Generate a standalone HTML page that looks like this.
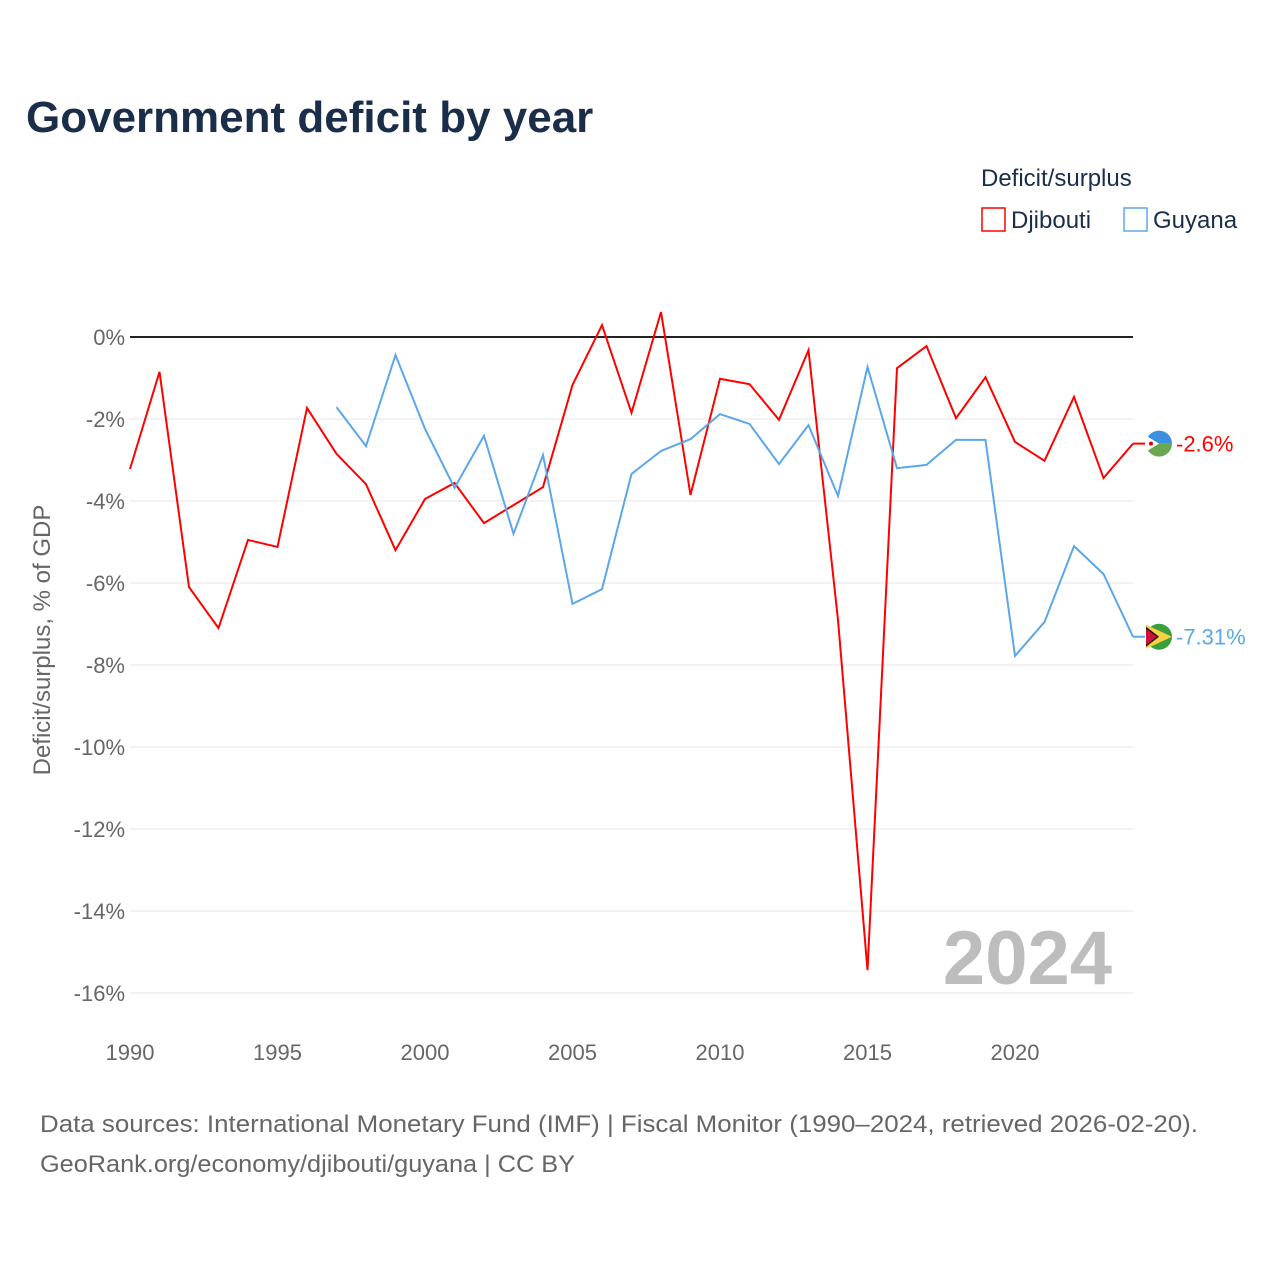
<!DOCTYPE html>
<html><head><meta charset="utf-8"><style>
body{margin:0;background:#fff;font-family:"Liberation Sans",sans-serif}
svg text{font-family:"Liberation Sans",sans-serif}
</style></head><body>
<svg id="chart" width="1280" height="1280" xmlns="http://www.w3.org/2000/svg">
<text x="26" y="132" font-size="44" font-weight="bold" fill="#1a2e4a">Government deficit by year</text>
<text x="981" y="186" font-size="24" fill="#1a2e4a">Deficit/surplus</text>
<g><rect x="982" y="208" width="23" height="23" fill="none" stroke="#f00" stroke-width="1.5"/><text x="1011" y="228" font-size="24" fill="#1a2e4a">Djibouti</text></g>
<g><rect x="1124" y="208" width="23" height="23" fill="none" stroke="#5ba7ea" stroke-width="1.5"/><text x="1153" y="228" font-size="24" fill="#1a2e4a">Guyana</text></g>
<g id="grid"></g><g id="xt"></g>
<text x="1112" y="984" font-size="76" font-weight="bold" fill="#bdbdbd" text-anchor="end">2024</text>
<g id="lines"></g>
<text transform="translate(50,640) rotate(-90)" font-size="24" fill="#666" text-anchor="middle">Deficit/surplus, % of GDP</text>
<text x="40" y="1132" font-size="24" fill="#666" textLength="1158" lengthAdjust="spacingAndGlyphs">Data sources: International Monetary Fund (IMF) | Fiscal Monitor (1990–2024, retrieved 2026-02-20).</text>
<text x="40" y="1172" font-size="24" fill="#666" textLength="535" lengthAdjust="spacingAndGlyphs">GeoRank.org/economy/djibouti/guyana | CC BY</text>
</svg>
<script>
const years=[];for(let y=1990;y<=2024;y++)years.push(y);
const djibouti=[-3.22,-0.85,-6.1,-7.1,-4.95,-5.12,-1.73,-2.85,-3.59,-5.2,-3.95,-3.56,-4.54,-4.1,-3.66,-1.17,0.29,-1.85,0.61,-3.85,-1.02,-1.15,-2.02,-0.32,-6.9,-15.44,-0.76,-0.22,-1.98,-0.98,-2.56,-3.02,-1.46,-3.44,-2.6];
const guyanaYears=[];for(let y=1997;y<=2024;y++)guyanaYears.push(y);
const guyana=[-1.71,-2.66,-0.44,-2.24,-3.68,-2.41,-4.8,-2.88,-6.51,-6.15,-3.34,-2.78,-2.49,-1.88,-2.12,-3.1,-2.15,-3.88,-0.73,-3.2,-3.12,-2.51,-2.51,-7.78,-6.95,-5.1,-5.78,-7.31];
const yTicks=[0,-2,-4,-6,-8,-10,-12,-14,-16];
const xTicks=[1990,1995,2000,2005,2010,2015,2020];
const NS="http://www.w3.org/2000/svg";
const X=v=>130+(v-1990)*29.5, Y=v=>337-v*41;
function mk(t,a,p){const e=document.createElementNS(NS,t);for(const k in a)e.setAttribute(k,a[k]);p.appendChild(e);return e;}
const g=document.getElementById('grid');
yTicks.forEach(t=>{
 const l=mk('line',{x1:130,x2:1133,y1:Y(t),y2:Y(t),stroke:t===0?'#222':'#e5e5e5','stroke-width':t===0?2:1},g);
 
 
 const tx=mk('text',{x:125,y:Y(t)+8,'font-size':22,fill:'#666','text-anchor':'end'},g);tx.textContent=t+'%';
 
 
});
const xt=document.getElementById('xt');
xTicks.forEach(t=>{const tx=mk('text',{x:X(t),y:1060,'font-size':22,fill:'#666','text-anchor':'middle'},xt);tx.textContent=t;
 
 });
const L=document.getElementById('lines');
function series(xs,vs,c,name,label){
 const p=mk('path',{d:vs.map((v,i)=>(i?'L':'M')+X(xs[i])+','+Y(v)).join(''),fill:'none',stroke:c,'stroke-width':2},L);
 
 
 const last=vs[vs.length-1];
 mk('line',{x1:X(2024),x2:X(2024)+12,y1:Y(last),y2:Y(last),stroke:c,'stroke-width':2},L);
 const cx=X(2024)+26, cy=Y(last);
 const fg=mk('g',{},L);
 
 
 if(name==='djibouti'){
  mk('path',{d:`M${cx-13},${cy}A13,13 0 0 1 ${cx+13},${cy}Z`,fill:'#3d8fe0'},fg);
  mk('path',{d:`M${cx-13},${cy}A13,13 0 0 0 ${cx+13},${cy}Z`,fill:'#6aa84f'},fg);
  mk('path',{d:`M${cx-13},${cy-8}L${cx},${cy}L${cx-13},${cy+8}Z`,fill:'#fff'},fg);
  mk('circle',{cx:cx-8,cy:cy,r:2,fill:'#d00'},fg);
 } else {
  mk('circle',{cx:cx,cy:cy,r:13,fill:'#3a9e3a'},fg);
  mk('path',{d:`M${cx-13},${cy-12}L${cx+13},${cy}L${cx-13},${cy+12}Z`,fill:'#f7d046'},fg);
  mk('path',{d:`M${cx-13},${cy-10}L${cx},${cy}L${cx-13},${cy+10}Z`,fill:'#111'},fg);
  mk('path',{d:`M${cx-13},${cy-8}L${cx-2},${cy}L${cx-13},${cy+8}Z`,fill:'#d0103a'},fg);
 }
 const tx=mk('text',{x:X(2024)+43,y:Y(last)+8,'font-size':22,fill:c},L);tx.textContent=label;
 
 
}
series(years,djibouti,'#f00','djibouti','-2.6%');
series(guyanaYears,guyana,'#5ba7ea','guyana','-7.31%');
</script>
</body></html>
